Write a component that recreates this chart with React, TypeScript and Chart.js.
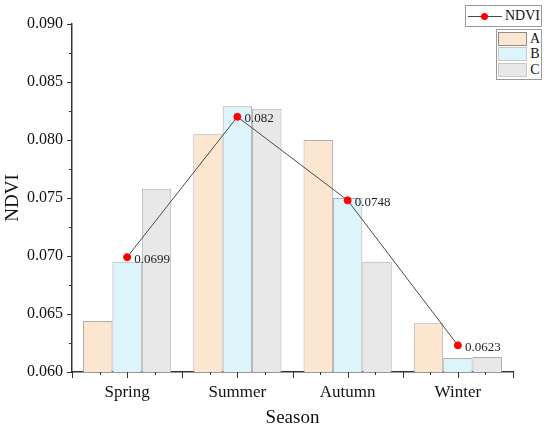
import React, { useEffect, useRef } from 'react';
import { Chart, registerables } from 'chart.js';

Chart.register(...registerables);

// --- data ---
const seasons = ['Spring', 'Summer', 'Autumn', 'Winter'];
const seriesA = [0.0644, 0.0805, 0.0800, 0.0642];
const seriesB = [0.0695, 0.0829, 0.0750, 0.0612];
const seriesC = [0.0758, 0.0827, 0.0695, 0.0613];
const ndvi = [0.0699, 0.082, 0.0748, 0.0623];
const ndviLabels = ['0.0699', '0.082', '0.0748', '0.0623'];

const SERIF = '"Liberation Serif", "Times New Roman", serif';
const AXIS = '#333';

const colorA = '#FDE6D0';
const colorB = '#DDF4FB';
const colorC = '#E8E8E8';
const barBorder = '#ADADAD';

// tick marks (major + minor) drawn from the scales, outward like the original
const tickMarks = {
  id: 'tickMarks',
  afterDraw(chart: any) {
    const { ctx, chartArea } = chart;
    const y = chart.scales.y;
    ctx.save();
    ctx.strokeStyle = AXIS;
    ctx.lineWidth = 1;
    ctx.beginPath();
    for (let i = 0; i <= 12; i++) {
      const py = Math.round(y.getPixelForValue(0.06 + i * 0.0025)) + 0.5;
      const len = i % 2 === 0 ? 5 : 3;
      ctx.moveTo(chartArea.left - len, py);
      ctx.lineTo(chartArea.left, py);
    }
    const w = chartArea.right - chartArea.left;
    for (let i = 0; i <= 16; i++) {
      const px = Math.round(chartArea.left + (i * w) / 16) + 0.5;
      const len = i % 2 === 0 ? 6 : 3;
      ctx.moveTo(px, chartArea.bottom);
      ctx.lineTo(px, chartArea.bottom + len);
    }
    ctx.stroke();
    ctx.restore();
  },
};

// value labels next to the NDVI points
const pointLabels = {
  id: 'pointLabels',
  afterDatasetsDraw(chart: any) {
    const { ctx } = chart;
    const meta = chart.getDatasetMeta(3);
    ctx.save();
    ctx.font = `13px ${SERIF}`;
    ctx.fillStyle = '#222';
    ctx.textBaseline = 'middle';
    ctx.textAlign = 'left';
    meta.data.forEach((pt: any, i: number) => {
      ctx.fillText(ndviLabels[i], pt.x + 7, pt.y + 2);
    });
    ctx.restore();
  },
};

export default function App() {
  const canvasRef = useRef<HTMLCanvasElement>(null);

  useEffect(() => {
    if (!canvasRef.current) return;
    const chart = new Chart(canvasRef.current, {
      type: 'bar',
      data: {
        labels: seasons,
        datasets: [
          { label: 'A', data: seriesA, backgroundColor: colorA, borderColor: barBorder, borderWidth: 1, order: 1 },
          { label: 'B', data: seriesB, backgroundColor: colorB, borderColor: barBorder, borderWidth: 1, order: 1 },
          { label: 'C', data: seriesC, backgroundColor: colorC, borderColor: barBorder, borderWidth: 1, order: 1 },
          {
            type: 'line',
            label: 'NDVI',
            data: ndvi,
            borderColor: '#4a4a4a',
            borderWidth: 1,
            pointBackgroundColor: '#FF0000',
            pointBorderColor: '#FF0000',
            pointRadius: 3.5,
            tension: 0,
            order: 0,
          } as any,
        ],
      },
      options: {
        animation: false,
        responsive: false,
        maintainAspectRatio: false,
        datasets: { bar: { categoryPercentage: 0.8, barPercentage: 1.0 } },
        layout: { padding: { top: 24, right: 37, left: 0, bottom: 0 } },
        plugins: { legend: { display: false }, tooltip: { enabled: false } },
        scales: {
          x: {
            grid: { display: true, drawOnChartArea: false, drawTicks: true, tickLength: 6, tickColor: 'rgba(0,0,0,0)' },
            border: { display: true, color: AXIS, width: 1.5 },
            ticks: { color: '#111', padding: 4, font: { family: SERIF, size: 17 } },
            title: { display: true, text: 'Season', color: '#111', padding: { top: 0, bottom: 1 }, font: { family: SERIF, size: 19 } },
            afterFit: (s: any) => { s.height = 58; },
          },
          y: {
            min: 0.06,
            max: 0.09,
            grid: { display: true, drawOnChartArea: false, drawTicks: true, tickLength: 6, tickColor: 'rgba(0,0,0,0)' },
            border: { display: true, color: AXIS, width: 1.5 },
            ticks: {
              stepSize: 0.005,
              color: '#111',
              padding: 3,
              font: { family: SERIF, size: 16 },
              callback: (v: any) => Number(v).toFixed(3),
            },
            title: { display: true, text: 'NDVI', color: '#111', padding: { top: 2, bottom: 0 }, font: { family: SERIF, size: 19 } },
            afterFit: (s: any) => { s.width = 72; },
          },
        },
      },
      plugins: [tickMarks, pointLabels],
    });
    return () => chart.destroy();
  }, []);

  const swatch = (top: number, bg: string, border: string) => (
    <div style={{ position: 'absolute', left: 1, top, width: 29, height: 14, background: bg, border: `1px solid ${border}`, boxSizing: 'border-box' }} />
  );
  const letter = (top: number, txt: string) => (
    <div style={{ position: 'absolute', left: 32, top, width: 12, textAlign: 'center', fontSize: 14, lineHeight: '15px' }}>{txt}</div>
  );

  return (
    <div style={{ position: 'absolute', left: 0, top: 0, width: 550, height: 430, background: '#fff', fontFamily: SERIF, color: '#111' }}>
      <canvas ref={canvasRef} width={550} height={430} style={{ width: 550, height: 430, display: 'block' }} />
      {/* legend: NDVI line */}
      <div style={{ position: 'absolute', left: 465, top: 5, width: 77, height: 22, border: '1px solid #9a9a9a', boxSizing: 'border-box', background: '#fff' }}>
        <div style={{ position: 'absolute', left: 2, top: 10, width: 34, height: 1, background: '#4a4a4a' }} />
        <div style={{ position: 'absolute', left: 15, top: 7, width: 7, height: 7, borderRadius: '50%', background: '#FF0000' }} />
        <div style={{ position: 'absolute', left: 39, top: 2, fontSize: 14, lineHeight: '16px' }}>NDVI</div>
      </div>
      {/* legend: bars */}
      <div style={{ position: 'absolute', left: 496, top: 29, width: 46, height: 51, border: '1px solid #9a9a9a', boxSizing: 'border-box', background: '#fff' }}>
        {swatch(2, colorA, '#8c8c8c')}
        {swatch(17, colorB, '#c8c8c8')}
        {swatch(33, colorC, '#c8c8c8')}
        {letter(1, 'A')}
        {letter(16, 'B')}
        {letter(32, 'C')}
      </div>
    </div>
  );
}
